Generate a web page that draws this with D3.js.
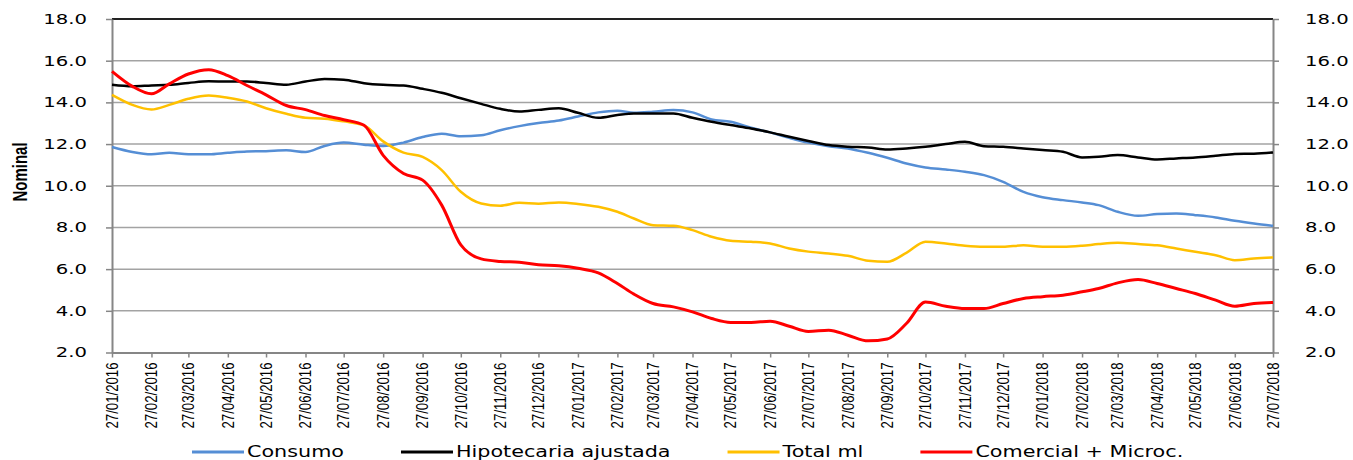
<!DOCTYPE html>
<html>
<head>
<meta charset="utf-8">
<script src="https://cdn.jsdelivr.net/npm/d3@7"></script>
<style>
  body { margin: 0; background: #fff; }
  text { font-family: "DejaVu Sans", Verdana, sans-serif; }
</style>
</head>
<body>
<div id="chart"></div>
<script>
// fechas (quincenales) de la serie
const dates = [
  "27/01/2016", "12/02/2016", "27/02/2016", "12/03/2016", "27/03/2016", "12/04/2016", "27/04/2016",
  "12/05/2016", "27/05/2016", "12/06/2016", "27/06/2016", "12/07/2016", "27/07/2016", "12/08/2016",
  "27/08/2016", "12/09/2016", "27/09/2016", "12/10/2016", "27/10/2016", "12/11/2016", "27/11/2016",
  "12/12/2016", "27/12/2016", "12/01/2017", "27/01/2017", "12/02/2017", "27/02/2017", "12/03/2017",
  "27/03/2017", "12/04/2017", "27/04/2017", "12/05/2017", "27/05/2017", "12/06/2017", "27/06/2017",
  "12/07/2017", "27/07/2017", "12/08/2017", "27/08/2017", "12/09/2017", "27/09/2017", "12/10/2017",
  "27/10/2017", "12/11/2017", "27/11/2017", "12/12/2017", "27/12/2017", "12/01/2018", "27/01/2018",
  "12/02/2018", "27/02/2018", "12/03/2018", "27/03/2018", "12/04/2018", "27/04/2018", "12/05/2018",
  "27/05/2018", "12/06/2018", "27/06/2018", "12/07/2018", "27/07/2018",
];

const monthTicks = [
  "27/01/2016", "27/02/2016", "27/03/2016", "27/04/2016", "27/05/2016", "27/06/2016", "27/07/2016",
  "27/08/2016", "27/09/2016", "27/10/2016", "27/11/2016", "27/12/2016", "27/01/2017", "27/02/2017",
  "27/03/2017", "27/04/2017", "27/05/2017", "27/06/2017", "27/07/2017", "27/08/2017", "27/09/2017",
  "27/10/2017", "27/11/2017", "27/12/2017", "27/01/2018", "27/02/2018", "27/03/2018", "27/04/2018",
  "27/05/2018", "27/06/2018", "27/07/2018",
];

const yTicks = [2, 4, 6, 8, 10, 12, 14, 16, 18];

const consumo = [
  11.86, 11.62, 11.51, 11.58, 11.51, 11.51, 11.58, 11.64, 11.66, 11.7, 11.62, 11.91, 12.07,
  11.97, 11.91, 12.07, 12.34, 12.5, 12.37, 12.42, 12.66, 12.86, 13.01, 13.13, 13.32,
  13.52, 13.6, 13.5, 13.55, 13.63, 13.52, 13.18, 13.07, 12.78, 12.56, 12.3, 12.07,
  11.9, 11.79, 11.58, 11.34, 11.07, 10.88, 10.78, 10.67, 10.51, 10.19, 9.71, 9.45,
  9.31, 9.2, 9.07, 8.75, 8.56, 8.64, 8.67, 8.59, 8.48, 8.32, 8.19, 8.08,
];

const hipotecaria = [
  14.84, 14.77, 14.81, 14.84, 14.93, 15.01, 15.0, 15.0, 14.93, 14.85, 15.0, 15.12, 15.09,
  14.92, 14.84, 14.81, 14.65, 14.46, 14.2, 13.93, 13.69, 13.56, 13.64, 13.72, 13.5,
  13.26, 13.39, 13.47, 13.47, 13.47, 13.26, 13.07, 12.91, 12.75, 12.56, 12.35, 12.15,
  11.95, 11.87, 11.84, 11.74, 11.79, 11.87, 12.0, 12.11, 11.9, 11.87, 11.79, 11.71,
  11.63, 11.36, 11.39, 11.47, 11.36, 11.26, 11.31, 11.36, 11.44, 11.52, 11.54, 11.6,
];

const totalMl = [
  14.36, 13.88, 13.66, 13.88, 14.17, 14.33, 14.22, 14.04, 13.72, 13.45, 13.26, 13.22, 13.09,
  12.9, 12.13, 11.59, 11.38, 10.75, 9.71, 9.15, 9.04, 9.18, 9.14, 9.2, 9.13,
  8.99, 8.75, 8.43, 8.11, 8.08, 7.87, 7.55, 7.36, 7.31, 7.23, 6.99, 6.84,
  6.75, 6.64, 6.4, 6.35, 6.78, 7.31, 7.23, 7.12, 7.07, 7.07, 7.14, 7.07,
  7.07, 7.12, 7.2, 7.26, 7.2, 7.14, 6.99, 6.83, 6.67, 6.43, 6.51, 6.56,
];

const comercial = [
  15.49, 14.77, 14.41, 14.89, 15.36, 15.57, 15.28, 14.81, 14.36, 13.85, 13.65, 13.37, 13.17,
  12.9, 11.46, 10.59, 10.27, 9.07, 7.16, 6.49, 6.37, 6.33, 6.21, 6.16, 6.04,
  5.82, 5.31, 4.8, 4.35, 4.19, 3.95, 3.63, 3.44, 3.44, 3.5, 3.26, 3.01,
  3.07, 2.83, 2.56, 2.65, 3.39, 4.42, 4.22, 4.11, 4.11, 4.35, 4.59, 4.68,
  4.75, 4.91, 5.07, 5.34, 5.5, 5.31, 5.07, 4.83, 4.51, 4.22, 4.35, 4.4,
];

const seriesNames = ["Consumo", "Hipotecaria ajustada", "Total ml", "Comercial + Microc."];
const seriesColors = ["#558ed5", "#000000", "#ffc000", "#ff0000"];

function drawChart() {
  const parseDate = d3.timeParse("%d/%m/%Y");
  const stretch = 1.4; // el original está estirado en horizontal

  const series = [consumo, hipotecaria, totalMl, comercial].map((values, i) => ({
    name: seriesNames[i],
    color: seriesColors[i],
    width: i === 3 ? 3 : 2.5,
    points: values.map((v, j) => ({ date: parseDate(dates[j]), value: v })),
  }));

  let dimensions = {
    width: 1353,
    height: 460,
    margin: { top: 19, right: 80, bottom: 107.5, left: 112 },
  };
  dimensions.boundedWidth =
    dimensions.width - dimensions.margin.left - dimensions.margin.right;
  dimensions.boundedHeight =
    dimensions.height - dimensions.margin.top - dimensions.margin.bottom;

  const chart = d3
    .select("#chart")
    .append("svg")
    .attr("width", dimensions.width)
    .attr("height", dimensions.height);

  const bounds = chart
    .append("g")
    .attr("transform", `translate(${dimensions.margin.left},${dimensions.margin.top})`);

  const xScale = d3
    .scaleTime()
    .domain([parseDate(monthTicks[0]), parseDate(monthTicks[monthTicks.length - 1])])
    .range([0, dimensions.boundedWidth]);

  const yScale = d3
    .scaleLinear()
    .domain([2, 18])
    .range([dimensions.boundedHeight, 0]);

  // grid
  bounds
    .append("g")
    .selectAll("line")
    .data(yTicks.filter((d) => d > 2))
    .join("line")
    .attr("x1", 0)
    .attr("x2", dimensions.boundedWidth)
    .attr("y1", (d) => yScale(d))
    .attr("y2", (d) => yScale(d))
    .attr("stroke", (d) => (d === 18 ? "#222" : "#a3a3a3"))
    .attr("stroke-width", (d) => (d === 18 ? 2 : 1.5));

  const stretchText = (sel, factor) =>
    sel.each(function () {
      const w = this.getComputedTextLength();
      d3.select(this)
        .attr("textLength", w * factor)
        .attr("lengthAdjust", "spacingAndGlyphs");
    });

  const styleAxis = (g) => {
    g.attr("font-family", "DejaVu Sans, Verdana, sans-serif").attr("font-size", 14);
    g.select(".domain").attr("stroke", "#868686").attr("stroke-width", 2);
    g.selectAll(".tick line").attr("stroke", "#868686").attr("stroke-width", 1.5);
    g.selectAll(".tick text").attr("fill", "#000");
  };

  // eje izquierdo
  const yAxisLeft = bounds
    .append("g")
    .call(
      d3.axisLeft(yScale).tickValues(yTicks).tickFormat(d3.format(".1f"))
        .tickSize(6).tickSizeOuter(0).tickPadding(19)
    )
    .call(styleAxis);
  stretchText(yAxisLeft.selectAll(".tick text"), stretch);

  // eje derecho
  const yAxisRight = bounds
    .append("g")
    .attr("transform", `translate(${dimensions.boundedWidth},0)`)
    .call(
      d3.axisRight(yScale).tickValues(yTicks).tickFormat(d3.format(".1f"))
        .tickSize(6).tickSizeOuter(0).tickPadding(26)
    )
    .call(styleAxis);
  stretchText(yAxisRight.selectAll(".tick text"), stretch);

  // eje x
  const xAxis = bounds
    .append("g")
    .attr("transform", `translate(0,${dimensions.boundedHeight})`)
    .call(
      d3.axisBottom(xScale).tickValues(monthTicks.map(parseDate))
        .tickFormat("").tickSize(5).tickSizeOuter(0)
    )
    .call(styleAxis);

  xAxis
    .selectAll(".xlabel")
    .data(monthTicks)
    .join("text")
    .attr("class", "xlabel")
    .attr("transform", (d) => `translate(${xScale(parseDate(d))},10) scale(1.3,1) rotate(-90)`)
    .attr("text-anchor", "end")
    .attr("dy", "0.35em")
    .attr("fill", "#000")
    .style("font-family", "'Liberation Sans', Arial, sans-serif")
    .style("font-size", "12.5px")
    .attr("textLength", 66)
    .attr("lengthAdjust", "spacingAndGlyphs")
    .text((d) => d);

  // titulo eje y
  chart
    .append("text")
    .attr("transform", `translate(20,172) scale(${stretch},1) rotate(-90)`)
    .attr("text-anchor", "middle")
    .attr("dy", "0.35em")
    .style("font-family", "'Liberation Sans', Arial, sans-serif")
    .style("font-size", "15px")
    .style("font-weight", "bold")
    .text("Nominal");

  // lineas
  const lineGenerator = d3
    .line()
    .x((d) => xScale(d.date))
    .y((d) => yScale(d.value))
    .curve(d3.curveMonotoneX);

  bounds
    .append("g")
    .selectAll("path")
    .data(series)
    .join("path")
    .attr("d", (d) => lineGenerator(d.points))
    .attr("fill", "none")
    .attr("stroke", (d) => d.color)
    .attr("stroke-width", (d) => d.width)
    .attr("stroke-linejoin", "round");

  // leyenda
  const legend = chart.append("g").attr("transform", "translate(0,452)");
  let cursor = 192;
  series.forEach((s) => {
    legend
      .append("line")
      .attr("x1", cursor)
      .attr("x2", cursor + 52)
      .attr("stroke", s.color)
      .attr("stroke-width", 3);
    const label = legend
      .append("text")
      .attr("x", cursor + 55)
      .attr("dy", "0.35em")
      .style("font-size", "15px")
      .attr("fill", "#000")
      .text(s.name);
    const w = label.node().getComputedTextLength() * 1.38;
    label.attr("textLength", w).attr("lengthAdjust", "spacingAndGlyphs");
    cursor += 55 + w + 57;
  });
}

drawChart();
</script>
</body>
</html>
